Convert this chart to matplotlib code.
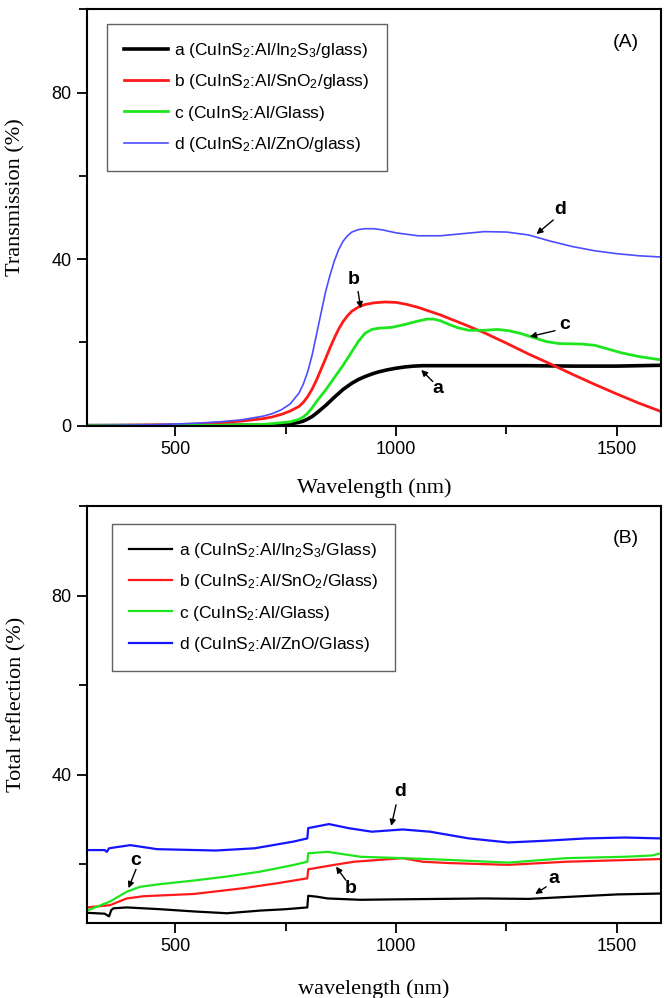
import matplotlib
matplotlib.use("Agg")
import matplotlib.pyplot as plt
from matplotlib.ticker import MultipleLocator

plt.rcParams['font.family'] = ['Liberation Sans', 'DejaVu Sans']
plt.rcParams['mathtext.default'] = 'regular'

# (A) transmission, wavelength in nm, values in %
wl_ta = [300, 700, 740, 760, 780, 790, 800, 810, 820, 830, 840, 860, 880, 900, 915, 930, 945, 960, 980,
         1000, 1020, 1040, 1060, 1080, 1200, 1300, 1400, 1500, 1600]
t_a = [0, 0.1, 0.25, 0.4, 0.8, 1.1, 1.6, 2.2, 3.0, 3.9, 4.8, 6.8, 8.7, 10.2, 11.1, 11.8, 12.4, 12.9, 13.4,
       13.8, 14.1, 14.3, 14.4, 14.4, 14.4, 14.4, 14.3, 14.3, 14.5]

wl_tb = [300, 500, 550, 600, 650, 700, 720, 740, 760, 780, 790, 800, 810, 820, 830, 840, 850, 860, 870,
         880, 890, 900, 915, 930, 950, 975, 1000, 1025, 1050, 1100, 1150, 1200, 1250, 1300, 1350, 1400,
         1450, 1500, 1550, 1600]
t_b = [0, 0.2, 0.4, 0.7, 1.1, 1.7, 2.1, 2.7, 3.5, 4.6, 5.6, 7, 8.8, 11, 13.5, 16, 18.6, 21, 23.2,
       25, 26.4, 27.5, 28.5, 29.1, 29.5, 29.7, 29.6, 29.1, 28.4, 26.6, 24.5, 22.3, 19.8, 17.2, 14.8, 12.3,
       9.9, 7.6, 5.4, 3.4]

wl_tc = [300, 600, 700, 760, 780, 790, 800, 810, 820, 840, 860, 880, 900, 915, 930, 945, 960, 990,
         1020, 1045, 1070, 1085, 1100, 1120, 1140, 1165, 1200, 1230, 1255, 1280, 1310, 1340, 1370, 1420,
         1450, 1480, 1510, 1550, 1600]
t_c = [0, 0.1, 0.3, 0.9, 1.5, 2.1, 3, 4.3, 5.8, 8.5, 11.5, 14.5, 17.8, 20.3, 22.2, 23.1, 23.4, 23.6,
       24.3, 25.0, 25.6, 25.6, 25.2, 24.3, 23.5, 22.9, 22.9, 23.1, 22.8, 22.2, 21.2, 20.2, 19.7, 19.6,
       19.3, 18.4, 17.5, 16.6, 15.8]

wl_td = [300, 450, 500, 550, 600, 650, 700, 720, 740, 760, 780, 790, 800, 810, 820, 830, 840, 850, 860,
         870, 880, 890, 900, 915, 930, 950, 970, 1000, 1050, 1100, 1150, 1200, 1250, 1300, 1350, 1400,
         1450, 1500, 1550, 1600]
t_d = [0, 0.2, 0.4, 0.6, 0.9, 1.4, 2.3, 2.9, 3.8, 5.2, 7.8, 10, 13, 17, 22, 27, 32, 36, 39.5,
       42.3, 44.3, 45.6, 46.5, 47.1, 47.3, 47.3, 47.0, 46.3, 45.6, 45.6, 46.1, 46.6, 46.5, 45.8, 44.3, 43,
       42, 41.3, 40.8, 40.5]

# (B) total reflection
wl_ra = [300, 340, 350, 355, 360, 390, 466, 542, 617, 693, 750, 799, 801, 820, 845, 920, 1000,
         1100, 1200, 1300, 1400, 1500, 1600]
r_a = [9.2, 9.0, 8.4, 9.8, 10.2, 10.4, 10.0, 9.5, 9.1, 9.7, 10.0, 10.4, 13.0, 12.8, 12.4, 12.1, 12.2,
       12.3, 12.4, 12.3, 12.8, 13.3, 13.5]

wl_rb = [300, 352, 390, 428, 542, 655, 731, 799, 801, 860, 905, 1015, 1060, 1120, 1254, 1386, 1600]
r_b = [10.4, 10.9, 12.4, 12.9, 13.4, 14.7, 15.8, 16.9, 18.9, 19.9, 20.6, 21.4, 20.6, 20.3, 19.9, 20.6, 21.2]

wl_rc = [300, 352, 390, 420, 466, 542, 617, 693, 769, 799, 801, 845, 920, 1015, 1120, 1254, 1386,
         1518, 1580, 1600]
r_c = [9.7, 11.7, 13.9, 15.0, 15.6, 16.4, 17.3, 18.4, 19.9, 20.6, 22.5, 22.8, 21.7, 21.4, 21.0, 20.4, 21.4,
       21.7, 22.0, 22.5]

wl_rd = [300, 340, 345, 350, 398, 459, 592, 680, 768, 799, 801, 848, 892, 945, 1015, 1077, 1165,
         1254, 1342, 1430, 1518, 1600]
r_d = [23.2, 23.2, 22.8, 23.6, 24.3, 23.4, 23.1, 23.6, 25.1, 25.8, 28.1, 29.0, 28.1, 27.3, 27.8, 27.3, 25.8,
       24.9, 25.3, 25.8, 26.0, 25.8]

labels_top = [r'a (CuInS$_2$:Al/In$_2$S$_3$/glass)', r'b (CuInS$_2$:Al/SnO$_2$/glass)',
              r'c (CuInS$_2$:Al/Glass)', r'd (CuInS$_2$:Al/ZnO/glass)']
labels_bot = [r'a (CuInS$_2$:Al/In$_2$S$_3$/Glass)', r'b (CuInS$_2$:Al/SnO$_2$/Glass)',
              r'c (CuInS$_2$:Al/Glass)', r'd (CuInS$_2$:Al/ZnO/Glass)']

# letter, text position, arrow tail, arrow head
notes_top = [('d', (1371, 51.8), (1356, 49.4), (1318, 46.0)),
             ('b', (905, 35.0), (914, 32.2), (920, 28.2)),
             ('c', (1382, 24.2), (1360, 22.8), (1303, 21.4)),
             ('a', (1095, 9.0), (1083, 10.6), (1057, 13.4))]
notes_bot = [('d', (1009, 36.2), (1000, 33.3), (989, 28.6)),
             ('c', (411, 20.8), (411, 18.9), (394, 14.7)),
             ('b', (896, 14.7), (886, 16.5), (864, 19.5)),
             ('a', (1358, 16.9), (1340, 15.0), (1315, 13.4))]

red = '#ff1a1a'
green = '#1ee61e'

fig = plt.figure(figsize=(6.64, 9.98), dpi=100)
ax1 = fig.add_axes([0.131, 0.5735, 0.8645, 0.4172])
ax2 = fig.add_axes([0.131, 0.0755, 0.8645, 0.4175])

ax1.plot(wl_ta, t_a, color='black', lw=2.6, label=labels_top[0])
ax1.plot(wl_tb, t_b, color=red, lw=2.0, label=labels_top[1])
ax1.plot(wl_tc, t_c, color=green, lw=2.0, label=labels_top[2])
ax1.plot(wl_td, t_d, color='#4d4dff', lw=1.2, label=labels_top[3])

ax2.plot(wl_ra, r_a, color='black', lw=1.6, label=labels_bot[0])
ax2.plot(wl_rb, r_b, color=red, lw=1.6, label=labels_bot[1])
ax2.plot(wl_rc, r_c, color=green, lw=1.6, label=labels_bot[2])
ax2.plot(wl_rd, r_d, color='#1414ff', lw=1.6, label=labels_bot[3])

ax1.set_ylim(0, 100)
ax2.set_ylim(7, 100)

for ax, notes, panel in [(ax1, notes_top, '(A)'), (ax2, notes_bot, '(B)')]:
    ax.set_xlim(300, 1600)
    ax.xaxis.set_major_locator(MultipleLocator(500))
    ax.xaxis.set_minor_locator(MultipleLocator(250))
    ax.yaxis.set_major_locator(MultipleLocator(40))
    ax.yaxis.set_minor_locator(MultipleLocator(20))
    ax.tick_params(which='major', direction='out', length=7, width=1.3, labelsize=13, pad=4)
    ax.tick_params(which='minor', direction='out', length=6, width=1.3)
    for s in ax.spines.values():
        s.set_linewidth(1.5)
    for letter, tpos, tail, head in notes:
        ax.text(tpos[0], tpos[1], letter, fontsize=14, fontweight='bold', ha='center', va='center')
        ax.annotate('', xy=head, xytext=tail,
                    arrowprops=dict(arrowstyle='-|>', color='black', lw=1.0, mutation_scale=9,
                                    shrinkA=0, shrinkB=0))
    ax.text(0.938, 0.921, panel, transform=ax.transAxes, fontsize=14, ha='center', va='center')

leg_kw = dict(loc='upper left', borderaxespad=0, frameon=True, fancybox=False, fontsize=12.5,
              handlelength=2.5, handletextpad=0.35, labelspacing=0.7, borderpad=1.0)
lg1 = ax1.legend(bbox_to_anchor=(0.035, 0.965), **leg_kw)
lg2 = ax2.legend(bbox_to_anchor=(0.043, 0.957), **leg_kw)
for lg in (lg1, lg2):
    lg.get_frame().set_edgecolor('#3a3a3a')
    lg.get_frame().set_linewidth(1.0)

serif = ['Liberation Serif', 'DejaVu Serif']
ax1.set_ylabel('Transmission (%)', family=serif, fontsize=16)
ax1.set_xlabel('Wavelength (nm)', family=serif, fontsize=16)
ax2.set_ylabel('Total reflection (%)', family=serif, fontsize=16)
ax2.set_xlabel('wavelength (nm)', family=serif, fontsize=16)
ax1.yaxis.set_label_coords(-0.107, 0.548)
ax2.yaxis.set_label_coords(-0.105, 0.525)
ax1.xaxis.set_label_coords(0.5, -0.126)
ax2.xaxis.set_label_coords(0.5, -0.135)

fig.savefig('out.png', dpi=100)
